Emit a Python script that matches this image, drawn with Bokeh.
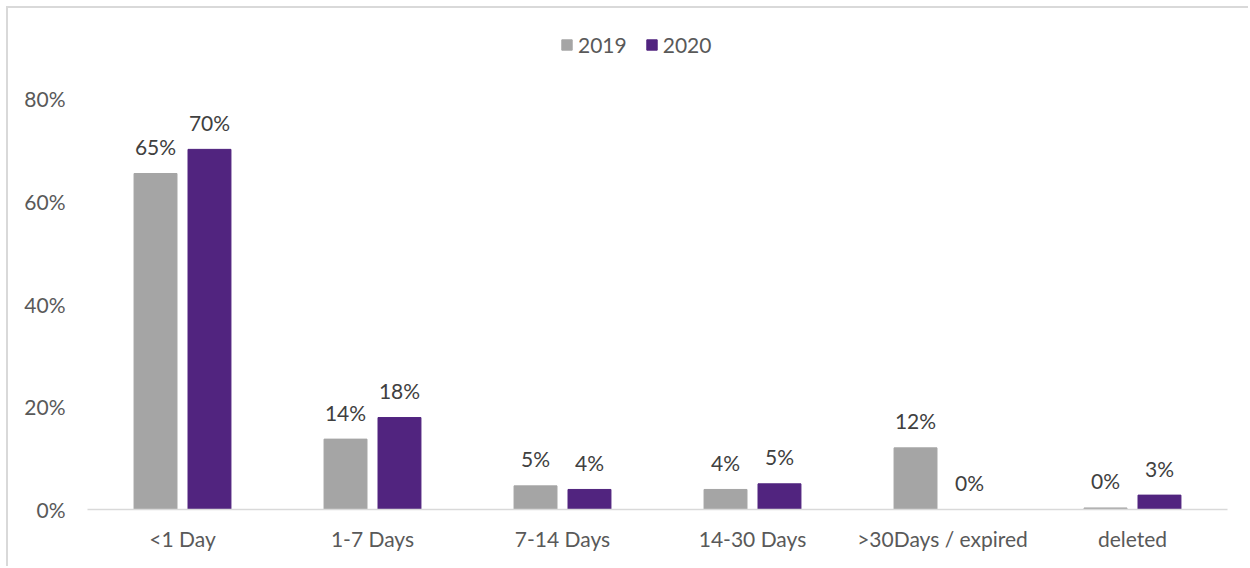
from bokeh.plotting import figure
from bokeh.models import (FactorRange, Range1d, Legend, LegendItem,
                          PrintfTickFormatter, ColumnDataSource, FixedTicker)
from bokeh.transform import dodge
from bokeh.core.properties import value
from bokeh.embed import file_html
from bokeh.resources import INLINE

categories = ["<1 Day", "1-7 Days", "7-14 Days", "14-30 Days", ">30Days / expired", "deleted"]
values_2019 = [65.4, 13.7, 4.6, 3.9, 12.0, 0.3]
values_2020 = [70.1, 17.9, 3.9, 5.0, 0.0, 2.8]
y_ticks = [0, 20, 40, 60, 80]

FONT = "Lato"
GRAY = "#A5A5A5"
PURPLE = "#51247F"

src = ColumnDataSource(dict(
    cat=categories,
    v2019=values_2019,
    v2020=values_2020,
    l2019=[f"{round(v):.0f}%" for v in values_2019],
    l2020=[f"{round(v):.0f}%" for v in values_2020],
))

# frame: 0..80 spans 411 px, plus room on top for the legend
PX_PER_UNIT = 411 / 80
y_top = 80 + 90 / PX_PER_UNIT

p = figure(x_range=FactorRange(*categories), y_range=Range1d(0, y_top),
           width=1242, height=560, output_backend="svg", toolbar_location=None,
           min_border_left=79, min_border_right=23, min_border_top=0,
           min_border_bottom=59)
p.styles = {"margin-left": "6px", "margin-top": "6px",
            "border-left": "2px solid #D9D9D9", "border-top": "2px solid #D9D9D9"}
p.x_range.range_padding = 0
p.outline_line_color = None
p.xgrid.grid_line_color = None
p.ygrid.grid_line_color = None

r1 = p.vbar(x=dodge("cat", -0.142, range=p.x_range), top="v2019", width=0.226,
            source=src, fill_color=GRAY, line_color=GRAY)
r2 = p.vbar(x=dodge("cat", 0.142, range=p.x_range), top="v2020", width=0.226,
            source=src, fill_color=PURPLE, line_color=PURPLE)

for off, col, ycol in ((-0.142, "l2019", "v2019"), (0.142, "l2020", "v2020")):
    p.text(x=dodge("cat", off, range=p.x_range), y=ycol,
           text=col, source=src, text_align="center", text_baseline="alphabetic",
           y_offset=-27, text_font=value(FONT), text_font_size="21px",
           text_color="#404040")

# axes
p.yaxis.ticker = FixedTicker(ticks=y_ticks)
p.yaxis.formatter = PrintfTickFormatter(format="%d%%")
p.yaxis.axis_line_color = None
p.yaxis.major_tick_line_color = None
p.yaxis.minor_tick_line_color = None
p.yaxis.major_label_standoff = 16
p.yaxis.major_label_text_font = FONT
p.yaxis.major_label_text_font_size = "21px"
p.yaxis.major_label_text_color = "#595959"

p.xaxis.axis_line_color = "#D9D9D9"
p.xaxis.axis_line_width = 1.5
p.xaxis.major_tick_line_color = None
p.xaxis.minor_tick_line_color = None
p.xaxis.major_label_standoff = 10
p.xaxis.major_label_text_font = FONT
p.xaxis.major_label_text_font_size = "21px"
p.xaxis.major_label_text_color = "#595959"

legend = Legend(items=[LegendItem(label="2019", renderers=[r1]),
                       LegendItem(label="2020", renderers=[r2])],
                orientation="horizontal", location=(473, 452),
                glyph_width=13, glyph_height=13, label_standoff=5, spacing=18,
                padding=0, margin=0, border_line_color=None,
                background_fill_alpha=0,
                label_text_font=FONT, label_text_font_size="21px",
                label_text_color="#595959")
p.add_layout(legend, "center")

open("out.html", "w").write(file_html(p, INLINE))
